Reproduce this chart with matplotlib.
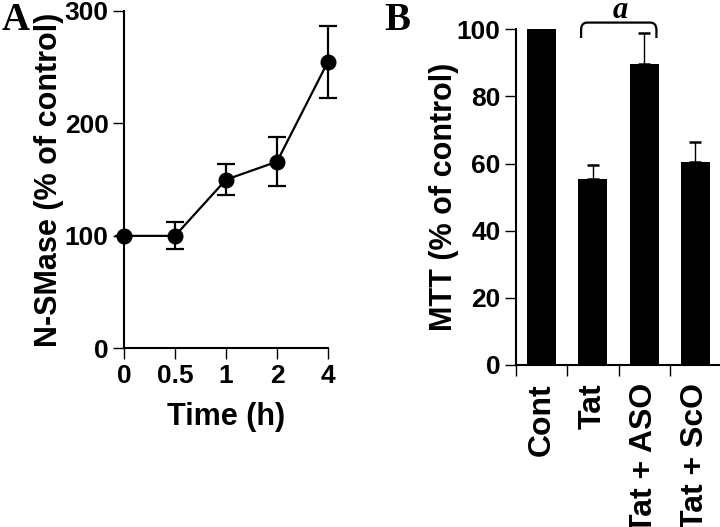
import matplotlib
matplotlib.use("Agg")
import matplotlib.pyplot as plt
from matplotlib.path import Path
from matplotlib.patches import PathPatch
import numpy as np

# ---- Data ----
time_labels = ["0", "0.5", "1", "2", "4"]
nsmase_mean = [100, 100, 150, 166, 255]
nsmase_err = [0, 12, 14, 22, 32]

groups = ["Cont", "Tat", "Tat + ASO", "Tat + ScO"]
mtt_mean = [100, 55.3, 89.6, 60.4]
mtt_err = [0, 4.3, 9.4, 6.0]
sig_pair = (1, 2)
sig_label = "a"

plt.rcParams['font.family'] = ['Liberation Sans', 'DejaVu Sans']
plt.rcParams['font.weight'] = 'bold'

fig = plt.figure(figsize=(7.2, 5.27), dpi=100)
W, H = 720, 527

def ax_px(l, t, r, b):
    return fig.add_axes([l / W, 1 - b / H, (r - l) / W, (b - t) / H])

tick_fs = 19
label_fs = 22

# ---- Panel A ----
axA = ax_px(124, 11, 328, 348.3)
xA = np.arange(len(time_labels))
axA.errorbar(xA, nsmase_mean, yerr=nsmase_err, color='black', lw=1.6,
             elinewidth=1.6, capsize=6.5, capthick=1.6, marker='o',
             markersize=10.5, clip_on=False, zorder=3)
axA.set_xlim(0, len(time_labels) - 1)
axA.set_ylim(0, 300)
axA.set_yticks([0, 100, 200, 300])
axA.set_xticks(xA)
axA.set_xticklabels(time_labels)
axA.set_xlabel("Time (h)", fontsize=label_fs, fontweight='bold')
axA.set_ylabel("N-SMase (% of control)", fontsize=label_fs, fontweight='bold')
axA.xaxis.set_label_coords(0.5, (348.3 - 402) / 337.3)
axA.yaxis.set_label_coords((64 - 124) / 204, 0.5)

# ---- Panel B ----
axB = ax_px(516, 29.3, 721, 365)
xB = np.arange(len(groups))
axB.bar(xB, mtt_mean, width=0.57, color='black', zorder=2)
err_idx = [i for i, e in enumerate(mtt_err) if e > 0]
axB.errorbar(xB[err_idx], [mtt_mean[i] for i in err_idx],
             yerr=[[0] * len(err_idx), [mtt_err[i] for i in err_idx]],
             fmt='none', ecolor='black', elinewidth=1.0, capsize=4.5,
             capthick=1.8, zorder=1)
axB.set_xlim(-0.5, len(groups) - 0.5)
axB.set_ylim(0, 100)
axB.set_yticks([0, 20, 40, 60, 80, 100])
axB.set_xticks(np.arange(len(groups) + 1) - 0.5)
axB.set_xticklabels([])
axB.set_xticks(xB, minor=True)
axB.set_xticklabels(groups, minor=True, rotation=90, fontsize=23,
                    fontweight='bold')
axB.tick_params(axis='x', which='minor', length=0, pad=13)
axB.set_ylabel("MTT (% of control)", fontsize=label_fs, fontweight='bold')
axB.yaxis.set_label_coords((459 - 516) / 205, 0.5)

# significance bracket
x0 = xB[sig_pair[0]] - 0.23
x1 = xB[sig_pair[1]] - 0.24 + 0.48
ytop, ybot = 102.0, 97.4
dx, dy = 0.12, 2.2
verts = [(x0, ybot), (x0, ytop - dy), (x0, ytop), (x0 + dx, ytop),
         (x1 - dx, ytop), (x1, ytop), (x1, ytop - dy), (x1, ybot)]
codes = [Path.MOVETO, Path.LINETO, Path.CURVE3, Path.CURVE3,
         Path.LINETO, Path.CURVE3, Path.CURVE3, Path.LINETO]
axB.add_patch(PathPatch(Path(verts, codes), fill=False, lw=1.6,
                        edgecolor='black', clip_on=False))
axB.text((x0 + x1) / 2 + 0.02, ytop + 1.3, sig_label, ha='center', va='baseline',
         fontsize=22, fontweight='bold', style='italic',
         family=['Liberation Serif', 'DejaVu Serif'], clip_on=False)

for ax in (axA, axB):
    for s in ('top', 'right'):
        ax.spines[s].set_visible(False)
    for s in ('left', 'bottom'):
        ax.spines[s].set_linewidth(1.5)
    ax.tick_params(axis='both', which='major', direction='out', length=8,
                   width=1.0, labelsize=tick_fs, pad=3)
    for lab in ax.get_yticklabels() + ax.get_xticklabels():
        lab.set_fontweight('bold')

# panel letters
fig.text(2 / W, 1 - 2 / H, "A", fontsize=28, fontweight='bold',
         family=['Liberation Serif', 'DejaVu Serif'], va='top', ha='left')
fig.text(384 / W, 1 - 2 / H, "B", fontsize=28, fontweight='bold',
         family=['Liberation Serif', 'DejaVu Serif'], va='top', ha='left')

fig.savefig("out.png", dpi=100)
